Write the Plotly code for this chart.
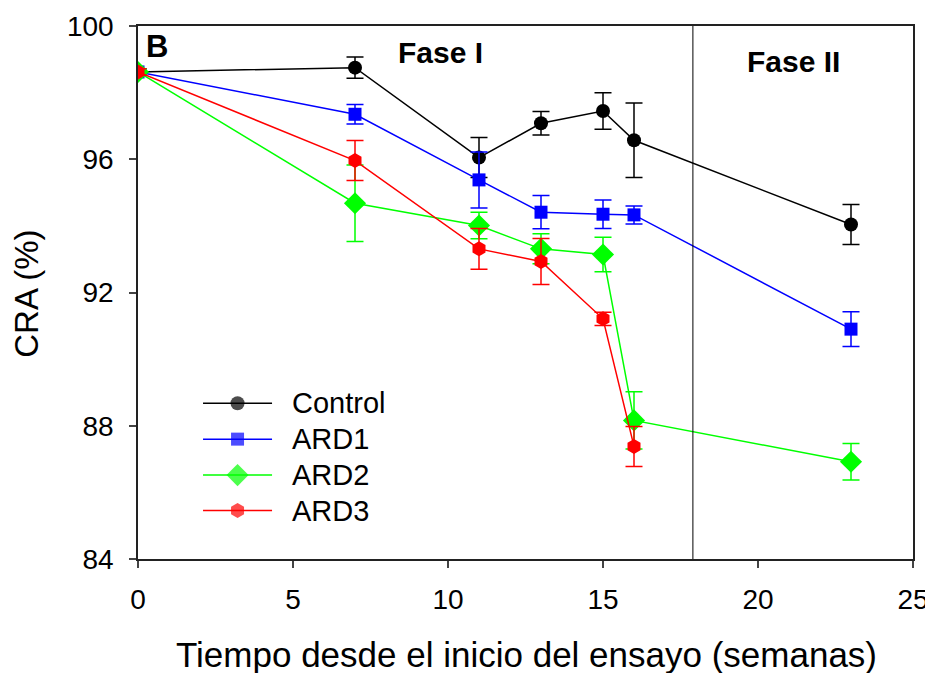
import plotly.graph_objects as go

weeks = [0, 7, 11, 13, 15, 16, 23]
weeks_ard3 = [0, 7, 11, 13, 15, 16]

control = [98.62, 98.75, 96.05, 97.08, 97.45, 96.57, 94.04]
control_err = [0.1, 0.32, 0.6, 0.35, 0.55, 1.12, 0.6]

ard1 = [98.62, 97.35, 95.38, 94.41, 94.35, 94.33, 90.90]
ard1_err = [0.1, 0.29, 0.84, 0.5, 0.43, 0.27, 0.52]

ard2 = [98.62, 94.68, 94.01, 93.31, 93.14, 88.16, 86.92]
ard2_err = [0.1, 1.15, 0.4, 0.45, 0.52, 0.86, 0.55]

ard3 = [98.62, 95.96, 93.31, 92.93, 91.21, 87.38]
ard3_err = [0.1, 0.6, 0.61, 0.69, 0.2, 0.6]

phase_boundary = 17.9

x_ticks = [0, 5, 10, 15, 20, 25]
y_ticks = [84, 88, 92, 96, 100]

series_names = ["Control", "ARD1", "ARD2", "ARD3"]

styles = {
    "Control": ("#000000", "circle", 14),
    "ARD1": ("#0000FF", "square", 13),
    "ARD2": ("#00FF00", "diamond", 17),
    "ARD3": ("#FF0000", "hexagon", 15),
}
data = {
    "Control": (weeks, control, control_err),
    "ARD1": (weeks, ard1, ard1_err),
    "ARD2": (weeks, ard2, ard2_err),
    "ARD3": (weeks_ard3, ard3, ard3_err),
}

FONT = "Liberation Sans, Arial, sans-serif"

# page has an 8px body margin; figure is sized so that it fits the 933x673 window
OFF = 8
FIG_W, FIG_H = 933 - OFF, 673 - OFF

# plot area in page pixels (for placing text in paper coordinates)
L, R, T, B = 138, 912.7, 25.9, 559.5
W, H = R - L, B - T


def px(xp):
    return (xp - L) / W


def py(yp):
    return (B - yp) / H


fig = go.Figure()
for name in series_names:
    xs, ys, errs = data[name]
    color, sym, size = styles[name]
    fig.add_trace(go.Scatter(
        x=xs, y=ys, name=name, mode="lines+markers", showlegend=False,
        line=dict(color=color, width=1.5),
        marker=dict(color=color, symbol=sym, size=size, line=dict(width=0)),
        error_y=dict(type="data", array=errs, visible=True, color=color,
                     thickness=1.5, width=8.5),
    ))

# custom legend drawn on an overlay axis spanning [0,1] of the plot area
leg_x0, leg_x1, leg_text = px(203), px(272), px(290)
leg_rows = [403.5, 439.5, 475.5, 511]
for name, row in zip(series_names, leg_rows):
    color, sym, size = styles[name]
    yy = py(row)
    fig.add_trace(go.Scatter(
        x=[leg_x0, (leg_x0 + leg_x1) / 2, leg_x1], y=[yy, yy, yy],
        xaxis="x2", yaxis="y2", mode="lines+markers", showlegend=False, hoverinfo="skip",
        line=dict(color=color, width=1.5),
        marker=dict(color=color, symbol=sym, size=[0, size, 0], line=dict(width=0)),
    ))
    fig.add_annotation(text=name, xref="paper", yref="paper", x=leg_text, y=yy,
                       xanchor="left", yanchor="middle", showarrow=False,
                       font=dict(family=FONT, size=29, color="black"))

fig.add_shape(type="line", xref="x", yref="paper", x0=phase_boundary, x1=phase_boundary,
              y0=0, y1=1, line=dict(color="black", width=1))

fig.add_annotation(text="<b>B</b>", xref="paper", yref="paper", x=px(156.5), y=py(46.5),
                   xanchor="center", yanchor="middle", showarrow=False,
                   font=dict(family=FONT, size=31, color="black"))
fig.add_annotation(text="<b>Fase I</b>", xref="paper", yref="paper", x=px(440.5),
                   y=py(52), xanchor="center", yanchor="middle", showarrow=False,
                   font=dict(family=FONT, size=30, color="black"))
fig.add_annotation(text="<b>Fase II</b>", xref="paper", yref="paper", x=px(793),
                   y=py(61), xanchor="center", yanchor="middle", showarrow=False,
                   font=dict(family=FONT, size=30, color="black"))

# axis titles
fig.add_annotation(text="Tiempo desde el inicio del ensayo (semanas)", xref="paper", yref="paper",
                   x=px(526), y=py(655), xanchor="center", yanchor="middle", showarrow=False,
                   font=dict(family=FONT, size=35, color="black"))
fig.add_annotation(text="CRA (%)", xref="paper", yref="paper", textangle=-90,
                   x=px(27), y=py(294), xanchor="center", yanchor="middle", showarrow=False,
                   font=dict(family=FONT, size=33, color="black"))

fig.update_layout(
    width=FIG_W, height=FIG_H,
    margin=dict(l=L - OFF, r=FIG_W - (R - OFF), t=T - OFF, b=FIG_H - (B - OFF),
                autoexpand=False),
    paper_bgcolor="white", plot_bgcolor="white",
    font=dict(family=FONT, size=28, color="black"),
    showlegend=False,
    xaxis=dict(range=[0, 25], tickvals=x_ticks, ticks="outside", ticklen=7, tickwidth=1.5,
               showline=True, linecolor="#222222", linewidth=1.5, mirror=True,
               showgrid=False, zeroline=False, automargin=False, ticklabelstandoff=8,
               tickfont=dict(family=FONT, size=28)),
    yaxis=dict(range=[84, 100], tickvals=y_ticks, ticks="outside", ticklen=7, tickwidth=1.5,
               showline=True, linecolor="#222222", linewidth=1.5, mirror=True,
               showgrid=False, zeroline=False, automargin=False, ticklabelstandoff=10,
               tickfont=dict(family=FONT, size=28)),
    xaxis2=dict(overlaying="x", range=[0, 1], visible=False, fixedrange=True),
    yaxis2=dict(overlaying="y", range=[0, 1], visible=False, fixedrange=True),
)

fig.write_html("out.html")
